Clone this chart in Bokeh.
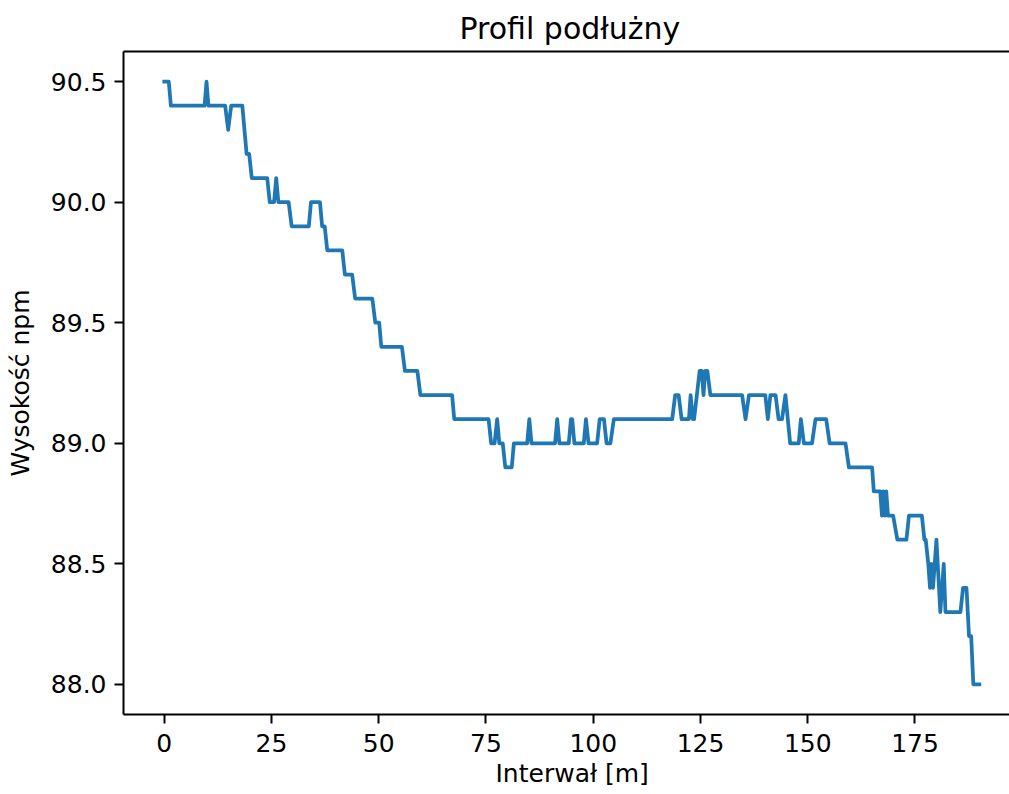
from bokeh.plotting import figure
from bokeh.models import (FixedTicker, PrintfTickFormatter, LinearAxis, Title,
                          Range1d, ColumnDataSource)
from bokeh.embed import file_html
from bokeh.resources import INLINE

title_text = "Profil podłużny"
x_label = "Interwał [m]"
y_label = "Wysokość npm"
x_ticks = [0, 25, 50, 75, 100, 125, 150, 175]
y_ticks = [88.0, 88.5, 89.0, 89.5, 90.0, 90.5]

# polyline vertices (distance in m, elevation in m a.s.l.)
distance_m = [
    0, 1.05, 1.55, 9.4, 9.85, 10.3, 14.2, 14.9, 15.6, 18.2,
    19.2, 19.8, 20.4, 24.0, 24.6, 25.6, 26.1, 26.6, 29.0, 29.7,
    33.7, 34.2, 36.3, 36.8, 37.4, 38.0, 41.5, 42.1, 43.8, 44.5,
    48.5, 49.2, 50.1, 50.6, 55.4, 56.1, 59.0, 59.7, 67.1, 67.6,
    75.6, 76.2, 77.0, 77.6, 78.1, 78.9, 79.5, 81.0, 81.5, 84.6,
    85.1, 85.6, 91.1, 91.6, 92.1, 94.3, 94.8, 95.1, 95.6, 97.8,
    98.3, 98.9, 100.9, 101.5, 102.5, 103.1, 104.0, 104.8, 118.4, 119.1,
    119.9, 120.6, 122.3, 122.7, 123.2, 123.5, 124.8, 125.3, 125.7, 126.1,
    126.6, 127.3, 134.7, 135.5, 136.3, 140.1, 140.7, 141.3, 142.5, 143.2,
    144.0, 144.8, 145.9, 147.9, 148.4, 149.1, 151.0, 151.8, 154.3, 155.1,
    158.8, 159.6, 165.0, 165.4, 166.9, 167.3, 167.6, 168.0, 168.3, 168.7,
    169.9, 170.9, 173.0, 173.6, 176.6, 177.2, 177.5, 178.1, 178.5, 178.8,
    179.2, 180.0, 180.6, 180.9, 181.3, 181.7, 182.1, 185.6, 186.2, 187.0,
    187.6, 188.1, 188.6, 190.0,
]
elevation = [
    90.5, 90.5, 90.4, 90.4, 90.5, 90.4, 90.4, 90.3, 90.4, 90.4,
    90.2, 90.2, 90.1, 90.1, 90.0, 90.0, 90.1, 90.0, 90.0, 89.9,
    89.9, 90.0, 90.0, 89.9, 89.9, 89.8, 89.8, 89.7, 89.7, 89.6,
    89.6, 89.5, 89.5, 89.4, 89.4, 89.3, 89.3, 89.2, 89.2, 89.1,
    89.1, 89.0, 89.0, 89.1, 89.0, 89.0, 88.9, 88.9, 89.0, 89.0,
    89.1, 89.0, 89.0, 89.1, 89.0, 89.0, 89.1, 89.1, 89.0, 89.0,
    89.1, 89.0, 89.0, 89.1, 89.1, 89.0, 89.0, 89.1, 89.1, 89.2,
    89.2, 89.1, 89.1, 89.2, 89.1, 89.1, 89.3, 89.3, 89.2, 89.3,
    89.3, 89.2, 89.2, 89.1, 89.2, 89.2, 89.1, 89.2, 89.2, 89.1,
    89.1, 89.2, 89.0, 89.0, 89.1, 89.0, 89.0, 89.1, 89.1, 89.0,
    89.0, 88.9, 88.9, 88.8, 88.8, 88.7, 88.8, 88.7, 88.8, 88.7,
    88.7, 88.6, 88.6, 88.7, 88.7, 88.6, 88.6, 88.5, 88.4, 88.5,
    88.4, 88.6, 88.4, 88.3, 88.4, 88.5, 88.3, 88.3, 88.4, 88.4,
    88.2, 88.2, 88.0, 88.0,
]

FONT = "DejaVu Sans"
BLACK = "#000000"

src = ColumnDataSource(data=dict(x=distance_m, y=elevation))

p = figure(width=1009, height=794,
           x_range=Range1d(-9.5, 197.03), y_range=Range1d(87.875, 90.625),
           output_backend="svg", toolbar_location=None,
           min_border_left=123, min_border_right=0, min_border_top=51,
           min_border_bottom=80)
p.outline_line_color = None
p.grid.visible = False
p.background_fill_color = "white"
p.border_fill_color = "white"

p.line("x", "y", source=src, line_color="#1f77b4", line_width=3.75,
       line_join="round", line_cap="square")

for ax in (p.xaxis[0], p.yaxis[0]):
    ax.axis_line_color = BLACK
    ax.axis_line_width = 2
    ax.major_tick_line_color = BLACK
    ax.major_tick_line_width = 2
    ax.major_tick_out = 9
    ax.major_tick_in = 0
    ax.minor_tick_line_color = None
    ax.major_label_text_font = FONT
    ax.major_label_text_font_size = "25px"
    ax.major_label_text_color = BLACK

p.xaxis[0].major_label_standoff = 10
p.yaxis[0].major_label_standoff = 8

p.xaxis[0].ticker = FixedTicker(ticks=x_ticks)
p.yaxis[0].ticker = FixedTicker(ticks=y_ticks)
p.yaxis[0].formatter = PrintfTickFormatter(format="%.1f")

p.yaxis[0].axis_label = y_label
p.yaxis[0].axis_label_text_font = FONT
p.yaxis[0].axis_label_text_font_size = "25px"
p.yaxis[0].axis_label_text_font_style = "normal"
p.yaxis[0].axis_label_text_color = BLACK
p.yaxis[0].axis_label_standoff = 13

# top spine
top = LinearAxis(ticker=FixedTicker(ticks=[]), major_label_text_font_size="0px",
                 major_tick_out=0, major_tick_in=0, minor_tick_out=0, minor_tick_in=0,
                 axis_line_color=BLACK, axis_line_width=2, major_label_standoff=0)
p.add_layout(top, "above")

p.title = Title(text=title_text, align="left", offset=336, text_font=FONT,
                text_font_size="30px", text_font_style="normal", text_color=BLACK,
                standoff=11)

xl = Title(text=x_label, align="left", offset=372, text_font=FONT,
           text_font_size="25px", text_font_style="normal", text_color=BLACK,
           standoff=5)
p.add_layout(xl, "below")

open("out.html", "w").write(file_html(p, INLINE))
